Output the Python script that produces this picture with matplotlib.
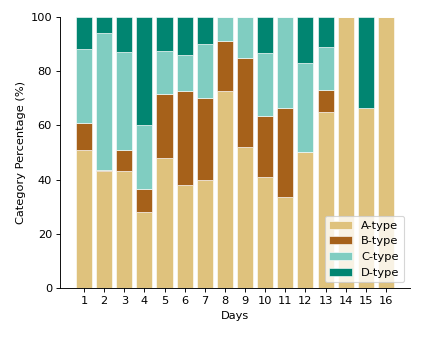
import matplotlib.pyplot as plt
import numpy as np

days = np.arange(1, 17)
a_type = [51, 43, 43, 28, 48, 38, 40, 72.5, 52, 41, 33.5, 50, 65, 100, 66.5, 100]
b_type = [10, 0.5, 8, 8.5, 23.5, 34.5, 30, 18.5, 33, 22.5, 33, 0, 8, 0, 0, 0]
c_type = [27, 50.5, 36, 23.5, 16, 13.5, 20, 9, 15, 23, 33.5, 33, 16, 0, 0, 0]
d_type = [12, 6, 13, 40, 12.5, 14, 10, 0, 0, 13.5, 0, 17, 11, 0, 33.5, 0]

colors = ['#dfc27d', '#a6611a', '#80cdc1', '#018571']
labels = ['A-type', 'B-type', 'C-type', 'D-type']

dpi = 82
fig, ax = plt.subplots(figsize=(423 / dpi, 338 / dpi), dpi=dpi)
bottom = np.zeros(len(days))
for vals, col, lab in zip([a_type, b_type, c_type, d_type], colors, labels):
    vals = np.array(vals)
    ax.bar(days, vals, bottom=bottom, color=col, label=lab, width=0.8,
           edgecolor='white', linewidth=0.5)
    bottom += vals

ax.set_ylim(0, 100)
ax.set_xticks(days)
ax.set_xlabel('Days')
ax.set_ylabel('Category Percentage (%)')
ax.spines['top'].set_visible(False)
ax.spines['right'].set_visible(False)
ax.legend(loc='lower right')
fig.subplots_adjust(left=0.142, right=0.969, top=0.95, bottom=0.148)
fig.savefig('out.png', dpi=dpi)
